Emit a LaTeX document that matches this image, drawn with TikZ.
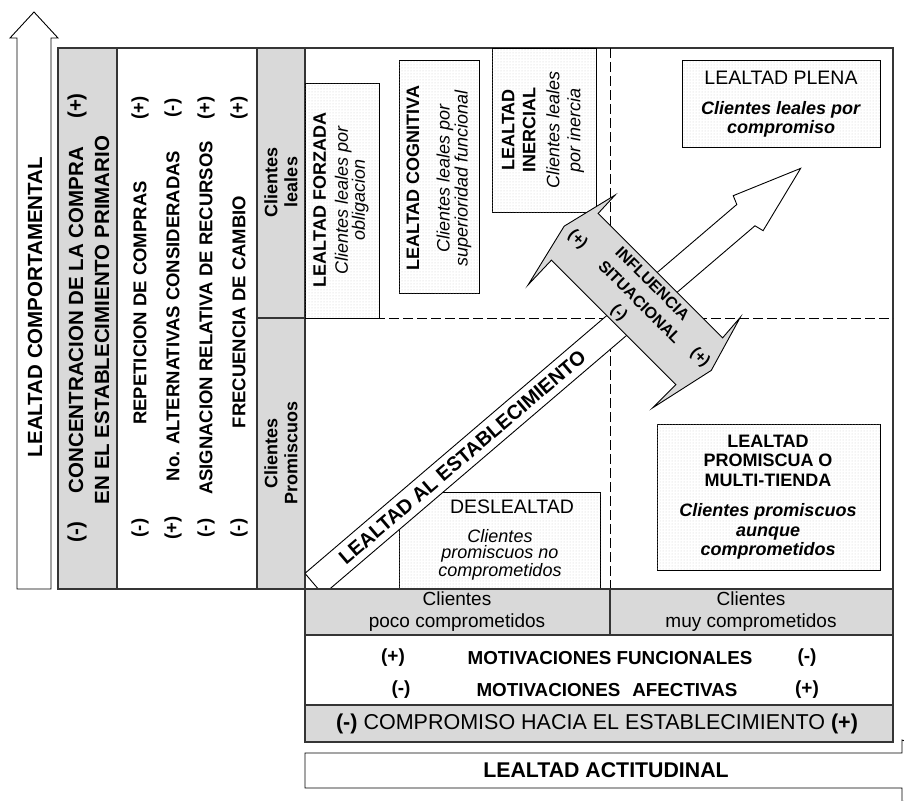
\documentclass[tikz,border=0pt]{standalone}
\usepackage{fontspec}
\setmainfont{Liberation Sans}
\usetikzlibrary{patterns}

\definecolor{cellgray}{HTML}{D9D9D9}
\definecolor{linegray}{HTML}{353535}
\newcommand{\fsz}[2]{\fontsize{#1}{#2}\selectfont}

\tikzset{
  frame/.style={draw=linegray, line width=1.4pt},
  dotbox/.style={draw=black, line width=0.9pt, fill=white, postaction={pattern=dots, pattern color=black!20}},
  divider/.style={draw=black, line width=0.9pt, dash pattern=on 10pt off 4pt},
  blockarrow/.style={draw=black, line width=0.9pt, fill=white, line join=miter},
  uptext/.style={rotate=90, inner sep=0pt, align=center},
  sign/.style={inner sep=0pt, font=\fsz{20.5}{24}\bfseries},
  indicator/.style={uptext, font=\fsz{18.5}{22}\bfseries},
  boxtext/.style={inner sep=0pt, align=center, font=\fsz{18}{18}},
}

\begin{document}
\begin{tikzpicture}[x=1pt,y=-1pt]
	% Page
	\useasboundingbox (0,0) rectangle (904,800);
	\clip (0,0) rectangle (904,800);
	
	% Arrow: behavioural loyalty
	\draw[blockarrow] (17,589) -- (17,38) -- (10,38) -- (34,12) -- (58,38) -- (51,38) -- (51,589) -- cycle;
	\node[uptext, font=\fsz{20.5}{24}\bfseries] (comportamental) at (35,307) {LEALTAD COMPORTAMENTAL};
	
	% Left table
	\fill[cellgray] (58,48) rectangle (117,589);
	\fill[cellgray] (257,48) rectangle (305,589);
	\draw[frame] (58,48) rectangle (305,589);
	\draw[frame] (117,48) -- (117,589);
	\draw[frame] (257,48) -- (257,589);
	\draw[frame] (257,318) -- (305,318);
	
	% Concentration of purchases
	\node[uptext, font=\fsz{20.5}{26}\bfseries] (concentracion) at (89,320) {CONCENTRACION DE LA COMPRA\\EN EL ESTABLECIMIENTO PRIMARIO};
	\node[sign, rotate=90] (concmenos) at (77,532) {(-)};
	\node[sign, rotate=90] (concmas) at (77,106) {(+)};
	
	% Indicators
	\node[indicator] (repeticion) at (140,303) {REPETICION DE COMPRAS};
	\node[indicator] (alternativas) at (173,316) {No. ALTERNATIVAS CONSIDERADAS};
	\node[indicator] (asignacion) at (206,318) {ASIGNACION RELATIVA DE RECURSOS};
	\node[indicator] (frecuencia) at (239,312) {FRECUENCIA DE CAMBIO};
	\node[indicator] (repmenos) at (140,528) {(-)};
	\node[indicator] (repmas) at (140,108) {(+)};
	\node[indicator] (altmas) at (173,528) {(+)};
	\node[indicator] (altmenos) at (173,108) {(-)};
	\node[indicator] (asigmenos) at (206,528) {(-)};
	\node[indicator] (asigmas) at (206,108) {(+)};
	\node[indicator] (frecmenos) at (239,528) {(-)};
	\node[indicator] (frecmas) at (239,108) {(+)};
	
	% Customer rows
	\node[uptext, font=\fsz{18}{20}\bfseries] (leales) at (281,182) {Clientes\\leales};
	\node[uptext, font=\fsz{18}{20}\bfseries] (promiscuos) at (281,453) {Clientes\\Promiscuos};
	
	% Quadrants
	\draw[frame] (305,48) rectangle (893,589);
	\draw[divider] (610,48) -- (610,589);
	\draw[divider] (305,318) -- (893,318);
	
	% Loyalty types
	\draw[dotbox] (305,83) rectangle (379,318);
	\node[boxtext, rotate=90, font=\fsz{18}{17}] (forzada) at (341,200) {\textbf{LEALTAD FORZADA}\\[5pt]\textit{Clientes leales por}\\\textit{obligacion}};
	\draw[dotbox] (399,60) rectangle (479,293);
	\node[boxtext, rotate=90] (cognitiva) at (439,178) {\textbf{LEALTAD COGNITIVA}\\[12.5pt]\textit{Clientes leales por}\\\textit{superioridad funcional}};
	\draw[dotbox] (492,48) rectangle (596,212);
	\node[boxtext, rotate=90, font=\fsz{18}{21}] (inercial) at (543,130) {\textbf{LEALTAD}\\\textbf{INERCIAL}\\[3pt]\textit{Clientes leales}\\\textit{por inercia}};
	\draw[dotbox] (682,60) rectangle (880,147);
	\node[boxtext, font=\fsz{18}{19.5}] (plena) at (781,104) {{\fsz{19.5}{19.5}LEALTAD PLENA}\\[10.5pt]\textbf{\textit{Clientes leales por}}\\\textbf{\textit{compromiso}}};
	\draw[dotbox] (399,492) rectangle (600,589);
	\node[boxtext, font=\fsz{18}{16.5}] (deslealtad) at (500,540) {\hspace*{24pt}{\fsz{19.5}{16.5}DESLEALTAD}\\[12pt]\textit{Clientes}\\\textit{promiscuos no}\\\textit{comprometidos}};
	\draw[dotbox] (657,424) rectangle (880,570);
	\node[boxtext, font=\fsz{18}{19.5}] (multitienda) at (768,497) {\textbf{LEALTAD}\\\textbf{PROMISCUA O}\\\textbf{MULTI-TIENDA}\\[11pt]\textbf{\textit{Clientes promiscuos}}\\\textbf{\textit{aunque}}\\\textbf{\textit{comprometidos}}};
	
	% Arrow: store loyalty
	\begin{scope}
		\clip (305,48) rectangle (893,589);
		\begin{scope}[shift={(314,584)}, rotate=40.5]
			\draw[blockarrow] (0,-14) -- (568,-14) -- (571,-23) -- (640,0) -- (571,23) -- (568,14) -- (0,14) -- cycle;
			\node[transform shape, inner sep=0pt, font=\fsz{20}{24}\bfseries] (establecimiento) at (195,0) {LEALTAD AL ESTABLECIMIENTO};
		\end{scope}
	\end{scope}
	
	% Double arrow: situational influence
	\begin{scope}[shift={(637,299)}, rotate=-45]
		\draw[blockarrow, fill=cellgray] (-88,-33) -- (-89,-58) -- (-103,0) -- (-87,67) -- (-88,33) -- (88,33) -- (88,66) -- (103,-2) -- (86,-60) -- (88,-33) -- cycle;
		\node[transform shape, inner sep=0pt, font=\fsz{16}{18}\bfseries] (influencia) at (0,-22) {INFLUENCIA};
		\node[transform shape, inner sep=0pt, font=\fsz{16}{18}\bfseries] (situacional) at (4,0) {SITUACIONAL};
		\node[transform shape, inner sep=0pt, font=\fsz{16}{18}\bfseries] (sitmenos) at (-3,23) {(-)};
		\node[transform shape, inner sep=0pt, font=\fsz{16}{18}\bfseries] (sitmasa) at (-84,0) {(+)};
		\node[transform shape, inner sep=0pt, font=\fsz{16}{18}\bfseries] (sitmasb) at (86,-3) {(+)};
	\end{scope}
	
	% Commitment rows
	\fill[cellgray] (305,589) rectangle (893,635);
	\fill[cellgray] (305,705) rectangle (893,742);
	\draw[frame] (305,589) rectangle (893,742);
	\draw[frame] (305,635) -- (893,635);
	\draw[frame] (305,705) -- (893,705);
	\draw[frame] (610,589) -- (610,635);
	\node[boxtext, font=\fsz{19}{22}] (poco) at (457,612) {Clientes\\poco comprometidos};
	\node[boxtext, font=\fsz{19}{22}] (muy) at (751,612) {Clientes\\muy comprometidos};
	
	% Motivations
	\node[sign, font=\fsz{19}{20}\bfseries] (funcmas) at (393,658) {(+)};
	\node[inner sep=0pt, font=\fsz{18.8}{20}\bfseries] (funcionales) at (610,658) {MOTIVACIONES FUNCIONALES};
	\node[sign, font=\fsz{19}{20}\bfseries] (funcmenos) at (807,658) {(-)};
	\node[sign, font=\fsz{19}{20}\bfseries] (afecmenos) at (401,690) {(-)};
	\node[inner sep=0pt, font=\fsz{18.8}{20}\bfseries] (afectivas) at (607,690) {MOTIVACIONES\hspace{12pt}AFECTIVAS};
	\node[sign, font=\fsz{19}{20}\bfseries] (afecmas) at (807,690) {(+)};
	
	% Commitment
	\node[inner sep=0pt, font=\fsz{21.5}{24}] (compromiso) at (597,724) {\textbf{(-)} COMPROMISO HACIA EL ESTABLECIMIENTO \textbf{(+)}};
	
	% Arrow: attitudinal loyalty
	\draw[blockarrow] (305,753) -- (902,753) -- (902,740) -- (990,770) -- (902,802) -- (902,788) -- (305,788) -- cycle;
	\node[inner sep=0pt, font=\fsz{21.3}{24}\bfseries] (actitudinal) at (606,770.5) {LEALTAD ACTITUDINAL};
	
\end{tikzpicture}
\end{document}
